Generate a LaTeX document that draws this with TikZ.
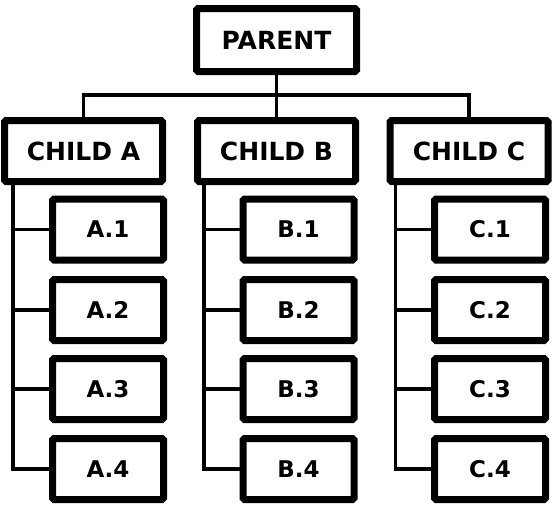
\documentclass[tikz,border=0pt]{standalone}
\usepackage{fontspec}
\setmainfont{DejaVu Sans}
\begin{document}
\begin{tikzpicture}[x=1pt,y=-1pt,
  box/.style={draw=black, line width=7pt, fill=white, inner sep=0pt, rounded corners=1.5pt,
    font=\bfseries\fontsize{25}{25}\selectfont},
  topbox/.style={box, minimum width=160pt, minimum height=63pt},
  childbox/.style={box, minimum width=158pt, minimum height=61pt},
  leafbox/.style={box, minimum width=111pt, minimum height=61pt,
    font=\bfseries\fontsize{23}{23}\selectfont},
  link/.style={draw=black, line width=3.5pt}]
\useasboundingbox (0,0) rectangle (554,506);
\node[topbox] (parent) at (276.5,40) {PARENT};
\node[childbox] (ca) at (83.5,151) {CHILD A};
\node[childbox] (cb) at (276.5,151) {CHILD B};
\node[childbox] (cc) at (469,151) {CHILD C};
\foreach \c/\L/\x in {a/A/108, b/B/298.5, c/C/490}{
  \node[leafbox] (\c1) at (\x,229.5) {\L.1};
  \node[leafbox] (\c2) at (\x,310) {\L.2};
  \node[leafbox] (\c3) at (\x,389) {\L.3};
  \node[leafbox] (\c4) at (\x,469) {\L.4};
}
\coordinate (ta) at ([xshift=12pt]ca.south west);
\coordinate (tb) at ([xshift=10pt]cb.south west);
\coordinate (tc) at ([xshift=9pt]cc.south west);
\draw[link] (parent.south) -- (cb.north);
\draw[link] (ca.north) -- ++(0,-22) -| (cc.north);
\foreach \c in {a,b,c}{
  \draw[link] (t\c) |- (\c4.west);
  \draw[link] (\c1.west -| t\c) -- (\c1.west);
  \draw[link] (\c2.west -| t\c) -- (\c2.west);
  \draw[link] (\c3.west -| t\c) -- (\c3.west);
}
\end{tikzpicture}
\end{document}
